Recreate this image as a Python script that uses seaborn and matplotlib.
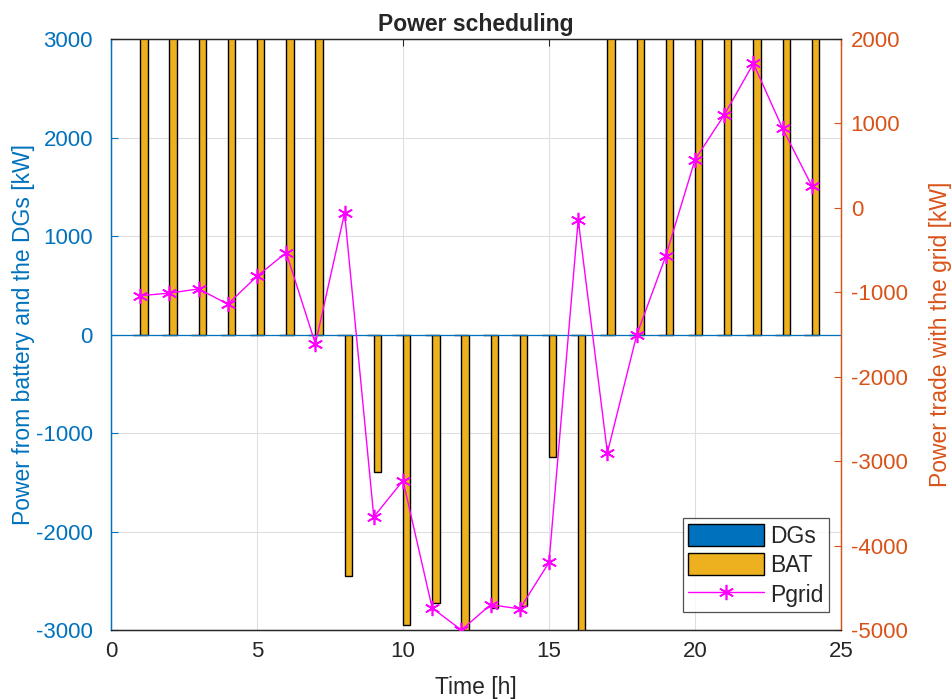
import numpy as np
import pandas as pd
import matplotlib
matplotlib.use("Agg")
import matplotlib.pyplot as plt
from matplotlib.patches import Patch
from matplotlib.lines import Line2D
import seaborn as sns

# Hourly schedule
hours = list(range(1, 25))
dg_power = [0] * 24
bat_power = [3500, 3500, 3500, 3500, 3500, 3500, 3500, -2450, -1400, -2950, -2730, -3050,
             -2780, -2760, -1240, -3050, 3500, 3500, 3500, 3500, 3500, 3500, 3500, 3500]
p_grid = [-1040, -1010, -960, -1140, -810, -530, -1610, -60, -3660, -3230, -4740, -5000,
          -4700, -4750, -4200, -140, -2900, -1510, -570, 570, 1100, 1710, 940, 260]

left_ticks = [-3000, -2000, -1000, 0, 1000, 2000, 3000]
right_ticks = [-5000, -4000, -3000, -2000, -1000, 0, 1000, 2000]
x_ticks = [0, 5, 10, 15, 20, 25]

BLUE = "#0072BD"
ORANGE = "#D95319"
GOLD = "#EDB120"
MAGENTA = "#FF00FF"
DARK = "#262626"

sns.set_style("white")
plt.rcParams["font.family"] = ["Liberation Sans", "DejaVu Sans"]

bars = pd.DataFrame({
    "hour": hours * 2,
    "source": ["DGs"] * 24 + ["BAT"] * 24,
    "power": dg_power + bat_power,
})

fig = plt.figure(figsize=(9.52, 6.99), dpi=100)
ax = fig.add_axes([0.1166, 0.0987, 0.7668, 0.8455])

sns.barplot(data=bars, x="hour", y="power", hue="source", native_scale=True,
            dodge=True, width=0.5, palette=[BLUE, GOLD], saturation=1,
            edgecolor="black", linewidth=1.0, errorbar=None, ax=ax,
            legend=False, zorder=3)
ax.axhline(0, color=BLUE, lw=0.9, zorder=4)

ax.set_xlim(0, 25)
ax.set_ylim(-3000, 3000)
ax.set_xticks(x_ticks)
ax.set_yticks(left_ticks)
ax.set_xticklabels([str(t) for t in x_ticks])
ax.set_yticklabels([str(t) for t in left_ticks])
ax.grid(True, color="#dfdfdf", lw=0.8, zorder=0)
ax.set_axisbelow(True)
ax.tick_params(axis="x", direction="in", colors=DARK, labelsize=16, top=True,
               length=5, pad=8)
ax.tick_params(axis="y", direction="in", colors=BLUE, labelsize=16, length=5, pad=13)
ax.set_xlabel("Time [h]", fontsize=16.5, color=DARK, labelpad=10)
ax.set_ylabel("Power from battery and the DGs [kW]", fontsize=16.5, color=BLUE,
              labelpad=1)
ax.set_title("Power scheduling", fontsize=16.5, fontweight="bold", pad=6)

ax2 = ax.twinx()
sns.lineplot(x=hours, y=p_grid, ax=ax2, color=MAGENTA, lw=1.0,
             marker=(6, 2, 0), markersize=11, markeredgecolor=MAGENTA,
             markeredgewidth=1.2, zorder=5)
ax2.set_ylim(-5000, 2000)
ax2.set_yticks(right_ticks)
ax2.set_yticklabels([str(t) for t in right_ticks])
ax2.tick_params(axis="y", direction="in", colors=ORANGE, labelsize=16, length=5, pad=7)
ax2.set_ylabel("Power trade with the grid [kW]", fontsize=16.5, color=ORANGE,
               labelpad=15)

for a in (ax, ax2):
    a.spines["top"].set_color(DARK)
    a.spines["bottom"].set_color(DARK)
    a.spines["left"].set_color(BLUE)
    a.spines["right"].set_color(ORANGE)
    for s in a.spines.values():
        s.set_linewidth(0.9)

handles = [
    Patch(facecolor=BLUE, edgecolor="black", lw=1.0),
    Patch(facecolor=GOLD, edgecolor="black", lw=1.0),
    Line2D([], [], color=MAGENTA, lw=1.0, marker=(6, 2, 0), markersize=11,
           markeredgecolor=MAGENTA, markeredgewidth=1.2),
]
leg = ax2.legend(handles, ["DGs", "BAT", "Pgrid"], loc="lower right",
                 bbox_to_anchor=(0.9835, 0.03), fontsize=16.5, frameon=True,
                 fancybox=False, edgecolor=DARK, handlelength=3.3,
                 handleheight=1.1, borderpad=0.25, labelspacing=0.25,
                 handletextpad=0.25, borderaxespad=0)
leg.get_frame().set_linewidth(0.9)

fig.savefig("out.png", dpi=100, facecolor="white")
